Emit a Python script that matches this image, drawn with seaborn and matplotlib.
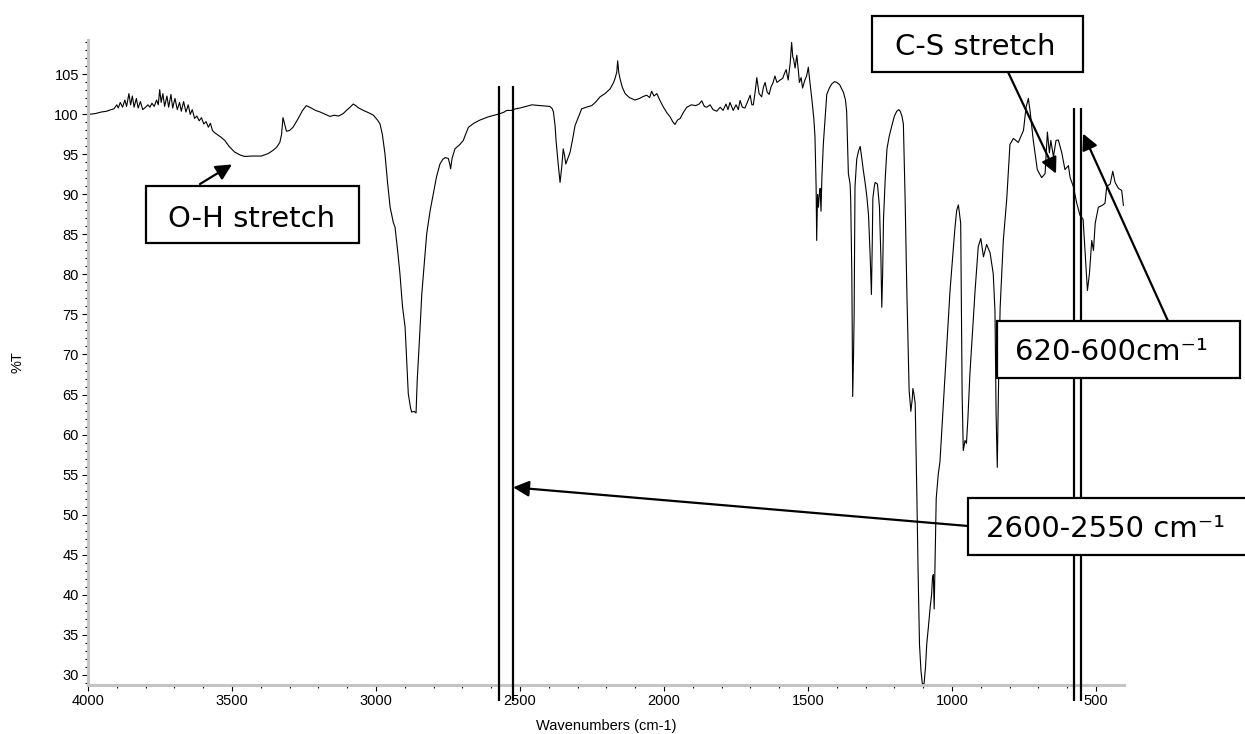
import matplotlib
matplotlib.use("Agg")
import matplotlib.pyplot as plt
import matplotlib.patches as mpatches
from matplotlib.ticker import MultipleLocator
import seaborn as sns
import numpy as np

# ----- spectrum (wavenumber cm-1, %T) -----
wavenumber = [
    4000, 3975, 3954, 3935, 3920, 3910, 3900, 3895, 3888, 3880, 3872, 3866, 3858, 3852,
    3846, 3840, 3832, 3826, 3818, 3810, 3800, 3792, 3785, 3778, 3770, 3762, 3756, 3751,
    3746, 3740, 3734, 3726, 3720, 3712, 3706, 3698, 3690, 3682, 3676, 3668, 3660, 3652,
    3645, 3638, 3630, 3622, 3614, 3606, 3598, 3590, 3582, 3575, 3568, 3560, 3540, 3525,
    3510, 3491, 3470, 3456, 3430, 3398, 3375, 3358, 3345, 3334, 3328, 3323, 3318, 3311,
    3300, 3288, 3270, 3255, 3242,
    3225, 3210, 3194, 3175, 3160, 3145, 3130, 3114, 3100, 3090, 3079, 3070, 3060, 3044,
    3025, 3009, 2995, 2986, 2978, 2969, 2960, 2951, 2940, 2934, 2925, 2917, 2908, 2899,
    2893, 2888, 2880, 2876, 2868, 2861, 2857, 2849, 2841, 2832, 2824, 2812, 2801, 2790,
    2778, 2768, 2760, 2749, 2744, 2741, 2736, 2726, 2710, 2697, 2688, 2679, 2660, 2639,
    2610, 2580, 2569, 2555, 2546, 2530, 2515, 2500,
    2480, 2459, 2430, 2396, 2388, 2384, 2378, 2375, 2368, 2361, 2355, 2350, 2345, 2341,
    2333, 2326, 2318, 2309, 2296, 2286, 2270, 2251, 2236, 2222, 2205, 2187, 2175, 2170,
    2164, 2161, 2157, 2153, 2145, 2135, 2120, 2101, 2085, 2072, 2060, 2050, 2043, 2035,
    2025, 2015, 2002, 1990, 1979, 1970, 1962, 1953, 1944, 1932, 1921, 1905, 1890, 1878,
    1869, 1860, 1852, 1840, 1830, 1817, 1805, 1795, 1785, 1778, 1771, 1760, 1750, 1742,
    1736, 1728, 1719, 1710, 1701, 1695, 1690, 1683, 1678, 1670, 1661,
    1655, 1649, 1642, 1635, 1628, 1622, 1615, 1608, 1597, 1588, 1582, 1576, 1569, 1562,
    1557, 1553, 1550, 1545, 1539, 1534, 1530, 1524, 1519, 1511, 1505, 1499, 1495, 1487,
    1480, 1476, 1472, 1470, 1467, 1464, 1461, 1458, 1455, 1452, 1447, 1440, 1435, 1426,
    1418, 1408, 1400, 1390, 1377, 1370, 1366, 1363, 1360, 1354, 1352, 1348, 1345, 1342,
    1340, 1337, 1331, 1325, 1319, 1314, 1308, 1302, 1296, 1290, 1284, 1280, 1277, 1275,
    1270, 1267, 1259, 1252, 1247, 1244, 1241, 1238, 1232, 1226, 1218, 1209, 1200, 1192,
    1185, 1180, 1174, 1169, 1163, 1157, 1149, 1143, 1138, 1136, 1132, 1128, 1122, 1118,
    1113, 1108, 1103, 1097, 1092, 1088, 1082, 1076, 1071, 1068, 1065, 1062, 1058, 1055,
    1048, 1042,
    1024, 1007, 990, 984, 978, 970, 965, 961, 955, 950, 945, 938, 920, 909,
    900, 891, 880, 868, 857, 851, 847, 843, 838, 833, 822, 810, 799, 787,
    770, 752, 743, 735, 729, 718, 704, 689, 677, 669, 662, 657, 648, 639,
    631, 619, 608, 596, 590, 579, 567, 556, 545, 537, 530, 523, 515, 509,
    503, 492, 480, 469, 463, 451, 442, 434, 422, 411, 405,
]
transmittance = [
    100.0, 100.1, 100.3, 100.4, 100.6, 100.7, 101.2, 100.8, 101.5, 100.9, 101.8, 101.0, 102.6, 101.2,
    102.3, 100.9, 102.0, 100.8, 101.6, 100.6, 100.9, 101.2, 100.9, 101.4, 101.0, 101.8, 101.2, 103.1,
    101.5, 102.6, 101.0, 102.3, 100.9, 102.5, 100.8, 102.0, 100.6, 101.5, 100.4, 101.6, 100.3, 101.2,
    100.0, 100.6, 99.5, 99.8, 99.2, 99.6, 98.8, 99.1, 98.4, 98.9, 98.0, 97.7, 97.2, 96.75,
    96.0, 95.3, 94.9, 94.75, 94.8, 94.8, 95.1, 95.5, 95.9, 96.5, 97.5, 99.6, 98.9, 97.9,
    98.0, 98.4, 99.5, 100.5, 101.1,
    100.8, 100.5, 100.3, 100.0, 99.75, 99.9, 99.8, 100.1, 100.6, 100.9, 101.3, 101.1, 100.8, 100.5,
    100.2, 99.9, 99.3, 98.8, 97.5, 95.1, 91.5, 88.4, 86.5, 85.9, 83.0, 80.1, 76.0, 73.4,
    69.0, 65.1, 63.3, 62.8, 62.9, 62.7, 66.75, 72.0, 77.6, 81.5, 85.1, 88.0, 90.1, 92.2,
    93.8, 94.4, 94.6, 94.5, 93.8, 93.2, 94.5, 95.7, 96.2, 96.75, 97.6, 98.4, 98.9, 99.3,
    99.7, 100.0, 100.1, 100.3, 100.5, 100.5, 100.7, 100.8,
    101.0, 101.2, 101.1, 101.0, 100.7, 100.3, 98.5, 96.75, 94.0, 91.5, 93.5, 95.7, 94.8, 93.8,
    94.6, 95.3, 96.8, 98.6, 99.8, 100.7, 100.9, 101.1, 101.6, 102.2, 102.6, 103.2, 104.0, 104.5,
    105.3, 106.7, 105.2, 104.5, 103.4, 102.6, 102.1, 101.8, 102.0, 102.25, 102.4, 102.1, 102.9, 102.3,
    102.6, 101.8, 100.9, 100.2, 99.7, 99.1, 98.75, 99.3, 99.5, 100.3, 100.9, 101.2, 101.1, 101.3,
    101.7, 101.0, 100.9, 101.2, 100.6, 100.4, 100.9, 100.5, 101.3, 100.6, 101.5, 100.5, 101.2, 100.6,
    101.75, 100.9, 100.8, 101.6, 102.4, 101.2, 101.2, 103.0, 104.6, 102.6, 102.2,
    103.4, 104.0, 102.8, 102.5, 103.5, 103.9, 104.8, 104.0, 104.3, 104.5, 105.1, 105.6, 104.3, 106.4,
    109.0, 107.2, 106.9, 105.8, 107.4, 105.6, 104.0, 104.6, 103.3, 104.3, 104.8, 105.9, 104.5, 102.0,
    99.5, 97.3, 91.0, 84.25, 90.0, 88.4, 90.0, 90.75, 87.9, 92.0, 96.25, 100.0, 102.5, 103.3,
    103.8, 104.1, 104.0, 103.7, 102.75, 101.8, 100.4, 96.5, 92.6, 91.3, 89.5, 80.0, 64.75, 70.0,
    74.9, 91.0, 94.4, 95.4, 96.0, 94.7, 93.0, 91.5, 89.8, 87.4, 82.0, 77.5, 84.0, 89.5,
    91.0, 91.5, 91.3, 88.4, 82.0, 75.9, 80.0, 86.9, 92.0, 95.7, 97.3, 98.6, 99.8, 100.4,
    100.6, 100.4, 99.8, 98.8, 89.5, 78.0, 65.5, 62.9, 64.5, 65.75, 65.0, 63.9, 52.0, 43.0,
    33.75, 30.5, 28.8, 28.9, 31.0, 33.75, 36.0, 38.4, 40.0, 42.1, 42.5, 38.2, 46.0, 52.0,
    55.0, 56.6,
    67.6, 78.0, 85.8, 88.0, 88.7, 86.4, 65.0, 58.0, 59.25, 58.9, 62.0, 67.6, 78.0, 83.5,
    84.5, 82.2, 83.75, 82.7, 80.1, 75.4, 62.4, 55.9, 67.6, 75.9, 84.25, 89.5, 96.25, 97.0,
    96.5, 98.0, 100.9, 102.0, 100.4, 96.75, 93.1, 92.1, 92.6, 97.8, 95.2, 96.75, 94.7, 96.75,
    96.8, 95.2, 93.1, 93.6, 92.1, 91.0, 88.9, 87.4, 86.9, 82.2, 78.0, 80.1, 84.25, 83.0,
    86.4, 88.4, 88.6, 88.9, 91.0, 91.3, 92.9, 91.5, 90.75, 90.5, 88.6,
]

# band marker lines
band_lines_sh = [2573, 2524]
band_lines_cs = [576, 552]

# annotation labels and arrow heads (data coords)
labels = ["O-H stretch", "C-S stretch", "620-600cm\u207b\u00b9", "2600-2550 cm\u207b\u00b9"]
arrow_heads = [(3500, 93.75), (639, 92.6), (545, 97.6), (2524, 53.4)]

W, H = 1245, 734

def fx(px):
    return px / W

def fy(py):
    return 1 - py / H

# box layout in pixels: (left, top, right, bottom), text centre x, text baseline y, arrow tail
boxes = [(146, 186, 359, 243), (872, 16, 1083, 72), (997, 321, 1240, 378), (968, 498, 1260, 555)]
text_pos = [(252, 227), (975, 55), (1111, 360), (1106, 537)]
arrow_tails = [(200, 184), (1008, 72), (1168, 321), (968, 526)]

sns.set_style("ticks")
plt.rcParams["font.family"] = ["Liberation Sans", "DejaVu Sans"]
for key in ["text.color", "axes.labelcolor", "xtick.color", "ytick.color"]:
    plt.rcParams[key] = "black"

fig = plt.figure(figsize=(12.45, 7.34), dpi=100)
ax = fig.add_axes([fx(88), fy(685), fx(1124) - fx(88), fy(40) - fy(685)])

sns.lineplot(x=wavenumber, y=transmittance, ax=ax, color="black", lw=0.8,
             sort=False, estimator=None)

ax.set_xlim(4000, 403)
ax.set_ylim(28.7, 109.3)
ax.xaxis.set_major_locator(MultipleLocator(500))
ax.xaxis.set_minor_locator(MultipleLocator(100))
ax.yaxis.set_minor_locator(MultipleLocator(1))
ax.set_yticks(np.arange(30, 106, 5))
ax.tick_params(which="major", direction="out", length=4.5, width=0.8, color="black",
               labelsize=10.5, pad=2)
ax.tick_params(which="minor", direction="out", length=2.5, width=0.8, color="black")

for side in ["top", "right"]:
    ax.spines[side].set_visible(False)
for side in ["left", "bottom"]:
    ax.spines[side].set_color("#c4c4c4")
    ax.spines[side].set_linewidth(2.2)

ax.set_xlabel("Wavenumbers (cm-1)", fontsize=10.5)
ax.set_ylabel("%T", fontsize=10.5)
ax.xaxis.set_label_coords(0.5, (685 - 719) / 645)
ax.yaxis.set_label_coords((25 - 88) / 1036, 0.5)

# vertical band lines
ax.vlines(band_lines_sh, 26.75, 103.5, colors="black", lw=1.6, clip_on=False, zorder=4)
ax.vlines(band_lines_cs, 26.75, 100.75, colors="black", lw=1.6, clip_on=False, zorder=4)

# arrows, boxes and labels
for (hx, hy), (tx, ty) in zip(arrow_heads, arrow_tails):
    ax.annotate("", xy=(hx, hy), xycoords="data",
                xytext=(fx(tx), fy(ty)), textcoords="figure fraction",
                arrowprops=dict(arrowstyle="-|>", color="black", lw=1.6,
                                mutation_scale=24, shrinkA=0, shrinkB=0),
                annotation_clip=False, zorder=5)

for (l, t, r, b), (cx, by), lab in zip(boxes, text_pos, labels):
    rect = mpatches.Rectangle((fx(l), fy(b)), fx(r) - fx(l), fy(t) - fy(b),
                              transform=fig.transFigure, facecolor="white",
                              edgecolor="black", lw=1.6, clip_on=False, zorder=6)
    ax.add_patch(rect)
    ax.text(fx(cx), fy(by), lab, transform=fig.transFigure, ha="center", va="baseline",
            fontsize=21, family="DejaVu Sans", color="black", zorder=7, clip_on=False)

fig.savefig("out.png", dpi=100)
